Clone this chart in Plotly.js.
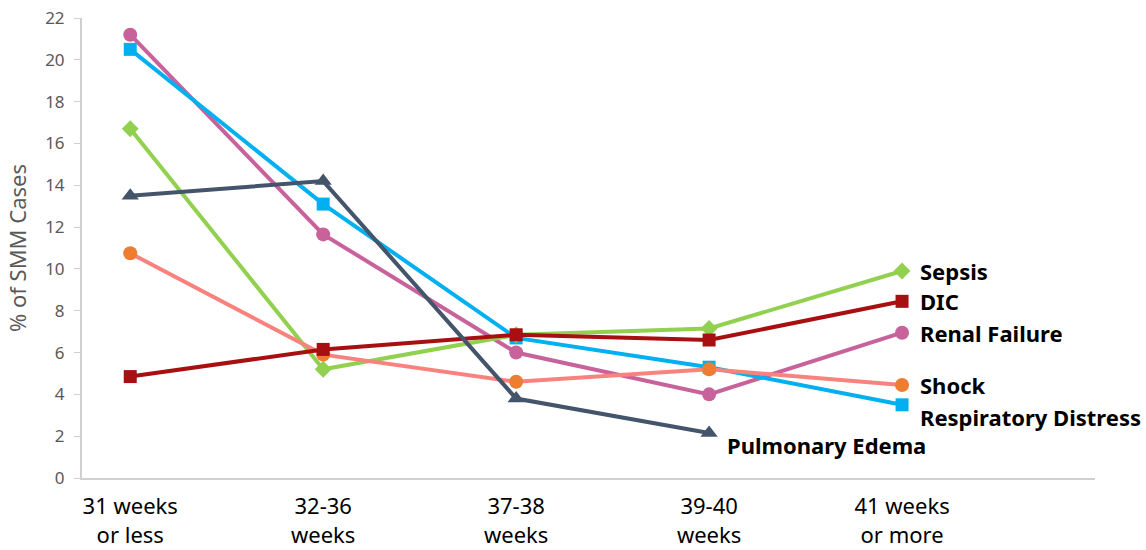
<!DOCTYPE html>
<html>
<head>
<meta charset="utf-8">
<script src="https://cdn.plot.ly/plotly-3.0.1.min.js"></script>
<style>html,body{margin:0;padding:0;background:#fff;}#chart{width:1146px;height:550px;}</style>
</head>
<body>
<div id="chart"></div>
<script>
const categories = ["31 weeks<br>or less", "32-36<br>weeks", "37-38<br>weeks", "39-40<br>weeks", "41 weeks<br>or more"];

const renalFailure = [21.2, 11.65, 6.0, 4.0, 6.95];
const respiratoryDistress = [20.5, 13.1, 6.7, 5.3, 3.5];
const sepsis = [16.7, 5.2, 6.85, 7.15, 9.9];
const shock = [10.75, 5.9, 4.6, 5.2, 4.45];
const dic = [4.85, 6.15, 6.85, 6.6, 8.45];
const pulmonaryEdema = [13.5, 14.2, 3.8, 2.15, null];

const seriesNames = ["Renal Failure", "Respiratory Distress", "Sepsis", "Shock", "DIC", "Pulmonary Edema"];
const seriesValues = [renalFailure, respiratoryDistress, sepsis, shock, dic, pulmonaryEdema];
const lineColors = ["#C8629B", "#00B0F0", "#92D050", "#F8837E", "#A80F10", "#44546A"];
const markerColors = ["#C8629B", "#00B0F0", "#92D050", "#ED7D31", "#A80F10", "#44546A"];
const markerSymbols = ["circle", "square", "diamond", "circle", "square", "triangle-up"];
const markerSizes = [14, 13, 13, 14, 13, 15];
// label offsets (pixels) relative to each series' last point
const labelShiftY = [0, -12, 0, 0, 0, -12];

const traces = seriesNames.map((name, i) => ({
  type: "scatter",
  mode: "lines+markers",
  name: name,
  x: [0, 1, 2, 3, 4],
  y: seriesValues[i],
  line: {color: lineColors[i], width: 4},
  marker: {color: markerColors[i], symbol: markerSymbols[i], size: markerSizes[i]},
  cliponaxis: false,
  hoverinfo: "skip"
}));

const annotations = seriesNames.map((name, i) => {
  const vals = seriesValues[i];
  let last = vals.length - 1;
  while (vals[last] === null) last--;
  return {
    x: last, y: vals[last], xref: "x", yref: "y",
    text: "<b>" + name + "</b>",
    showarrow: false, xanchor: "left", yanchor: "middle",
    xshift: 16, yshift: labelShiftY[i],
    font: {family: "Noto Sans, sans-serif", size: 22, color: "#000000"}
  };
});

const layout = {
  width: 1146, height: 550,
  margin: {l: 82, r: 51, t: 18, b: 72},
  paper_bgcolor: "#ffffff", plot_bgcolor: "#ffffff",
  showlegend: false,
  font: {family: "Noto Sans, sans-serif"},
  xaxis: {
    range: [-0.25, 5.0],
    tickmode: "array",
    tickvals: [0, 1, 2, 3, 4],
    ticktext: categories,
    showgrid: false, zeroline: false,
    showline: true, linecolor: "#D0D0D0", linewidth: 2,
    ticks: "",
    ticklabelstandoff: 8,
    tickfont: {family: "Noto Sans, sans-serif", size: 22, color: "#000000"}
  },
  yaxis: {
    range: [0, 22],
    tickmode: "linear", tick0: 0, dtick: 2,
    showgrid: false, zeroline: false,
    showline: true, linecolor: "#D0D0D0", linewidth: 2,
    ticks: "outside", ticklen: 6, tickcolor: "#D0D0D0", tickwidth: 1,
    ticklabelstandoff: 6,
    tickfont: {family: "Noto Sans, sans-serif", size: 17, color: "#595959"},
    title: {text: "% of SMM Cases", font: {family: "Noto Sans, sans-serif", size: 22, color: "#595959"}, standoff: 12}
  },
  annotations: annotations
};

Plotly.newPlot("chart", traces, layout, {displayModeBar: false, staticPlot: true});
</script>
</body>
</html>
